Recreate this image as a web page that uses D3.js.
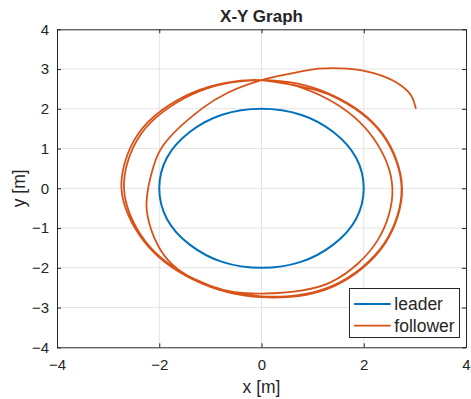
<!DOCTYPE html>
<html>
<head>
<meta charset="utf-8">
<script src="https://cdn.jsdelivr.net/npm/d3@7"></script>
<style>
  body { margin: 0; background: #fff; }
  svg text { font-family: "Liberation Sans", Arial, Helvetica, sans-serif; fill: #262626; }
</style>
</head>
<body>
<div class="visual"></div>
<script>
// axis ticks
const xTicks = [-4, -2, 0, 2, 4];
const yTicks = [-4, -3, -2, -1, 0, 1, 2, 3, 4];

// leader: circle of radius 2
const leaderX = [2, 1.85, 1.41, 0.77, 0, -0.77, -1.41, -1.85, -2, -1.85, -1.41, -0.77, 0, 0.77, 1.41, 1.85];
const leaderY = [0, 0.77, 1.41, 1.85, 2, 1.85, 1.41, 0.77, 0, -0.77, -1.41, -1.85, -2, -1.85, -1.41, -0.77];

// follower: start transient, then the loops around the leader
const followerX = [
  3.02, 2.92, 2.64, 2.21, 1.68, 1.12, 0.59, 0.00,
  -0.65, -1.16, -1.91, -2.11, -2.24, -1.82, -0.91, 0.00,
  1.36, 2.27, 2.56, 2.19, 1.30, 0.00,
  -1.38, -2.40, -2.74, -2.30, -1.33, 0.00, 1.42, 2.41, 2.75, 2.37, 1.36, 0.00,
  -1.36, -2.36, -2.69, -2.28, -1.32, 0.00, 1.41, 2.40, 2.74, 2.36, 1.35, 0.00
];
const followerY = [
  2.00, 2.35, 2.66, 2.89, 3.01, 3.01, 2.89, 2.72,
  2.41, 2.01, 1.10, 0.56, -0.60, -1.82, -2.50, -2.65,
  -2.36, -1.31, 0.00, 1.26, 2.24, 2.72,
  2.39, 1.39, 0.00, -1.33, -2.30, -2.74, -2.46, -1.40, 0.00, 1.37, 2.36, 2.72,
  2.36, 1.36, 0.00, -1.32, -2.28, -2.72, -2.44, -1.39, 0.00, 1.36, 2.34, 2.72
];

const seriesNames = ["leader", "follower"];
const seriesColors = ["#0072BD", "#D95319"];

const W = 471, H = 399;
const mLeft = 57, mRight = 466, mTop = 29.3, mBottom = 347.3;
const frameColor = "#262626";

const svg = d3.select(".visual").append("svg")
  .attr("width", W).attr("height", H)
  .style("display", "block");

svg.append("rect").attr("width", W).attr("height", H).attr("fill", "#fff");

const x = d3.scaleLinear().domain([-4, 4]).range([mLeft, mRight]);
const y = d3.scaleLinear().domain([-4, 4]).range([mBottom, mTop]);

// grid
const grid = svg.append("g").attr("stroke", "#e3e3e3").attr("stroke-width", 1);
grid.selectAll(".gx").data(xTicks.slice(1, -1)).enter().append("line")
  .attr("x1", d => x(d)).attr("x2", d => x(d))
  .attr("y1", mTop).attr("y2", mBottom);
grid.selectAll(".gy").data(yTicks.slice(1, -1)).enter().append("line")
  .attr("y1", d => y(d)).attr("y2", d => y(d))
  .attr("x1", mLeft).attr("x2", mRight);

// lines
const line = d3.line().x(d => x(d[0])).y(d => y(d[1]));
const leaderPts = leaderX.map((v, i) => [v, leaderY[i]]);
const followerPts = followerX.map((v, i) => [v, followerY[i]]);

const plot = svg.append("g");
plot.append("path")
  .attr("d", line.curve(d3.curveCardinalClosed.tension(0))(leaderPts))
  .attr("fill", "none").attr("stroke", seriesColors[0]).attr("stroke-width", 2);
plot.append("path")
  .attr("d", line.curve(d3.curveCatmullRom.alpha(0.5))(followerPts))
  .attr("fill", "none").attr("stroke", seriesColors[1]).attr("stroke-width", 1.8)
  .attr("stroke-linejoin", "round");

// axes, ticks pointing inward
function styleAxis(g) {
  g.selectAll("path").attr("stroke", frameColor).attr("stroke-width", 1);
  g.selectAll("line").attr("stroke", frameColor).attr("stroke-width", 1);
  g.selectAll("text").attr("fill", frameColor).style("font-size", "15px")
    .style("font-family", '"Liberation Sans", Arial, sans-serif');
}

svg.append("g").attr("transform", `translate(0,${mBottom})`)
  .call(d3.axisBottom(x).tickValues(xTicks).tickSizeInner(-4).tickSizeOuter(0).tickPadding(12))
  .call(styleAxis);
svg.append("g").attr("transform", `translate(0,${mTop})`)
  .call(d3.axisTop(x).tickValues(xTicks).tickSizeInner(-4).tickSizeOuter(0).tickFormat(""))
  .call(styleAxis);
svg.append("g").attr("transform", `translate(${mLeft},0)`)
  .call(d3.axisLeft(y).tickValues(yTicks).tickSizeInner(-4).tickSizeOuter(0).tickPadding(8))
  .call(styleAxis);
svg.append("g").attr("transform", `translate(${mRight},0)`)
  .call(d3.axisRight(y).tickValues(yTicks).tickSizeInner(-4).tickSizeOuter(0).tickFormat(""))
  .call(styleAxis);

// title and labels
svg.append("text").attr("x", (mLeft + mRight) / 2).attr("y", 21.7)
  .attr("text-anchor", "middle").style("font-size", "17px").style("font-weight", "bold")
  .text("X-Y Graph");
svg.append("text").attr("x", (mLeft + mRight) / 2).attr("y", 393)
  .attr("text-anchor", "middle").style("font-size", "17.5px")
  .text("x [m]");
svg.append("text").attr("transform", `translate(25,${(mTop + mBottom) / 2}) rotate(-90)`)
  .attr("text-anchor", "middle").style("font-size", "17.5px")
  .text("y [m]");

// legend
const legend = svg.append("g");
legend.append("rect")
  .attr("x", 349.5).attr("y", 288.5).attr("width", 110).attr("height", 49)
  .attr("fill", "#fff").attr("stroke", frameColor).attr("stroke-width", 1);
const rowY = [304, 325.7];
seriesNames.forEach((name, i) => {
  legend.append("line")
    .attr("x1", 354).attr("x2", 390.7).attr("y1", rowY[i]).attr("y2", rowY[i])
    .attr("stroke", seriesColors[i]).attr("stroke-width", i === 0 ? 2 : 1.8);
  legend.append("text")
    .attr("x", 394.3).attr("y", rowY[i]).attr("dy", "0.35em")
    .style("font-size", "17.5px")
    .text(name);
});
</script>
</body>
</html>
